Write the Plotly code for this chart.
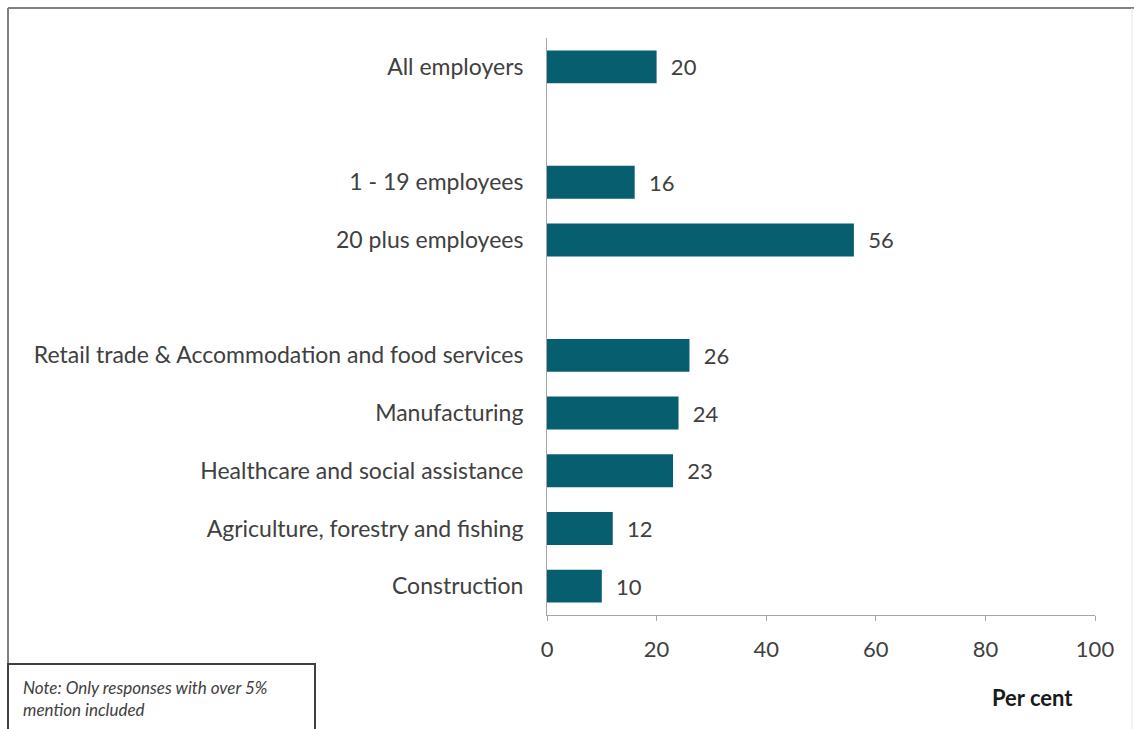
import plotly.graph_objects as go

categories = [
    "All employers",
    " ",
    "1 - 19 employees",
    "20 plus employees",
    "  ",
    "Retail trade & Accommodation and food services",
    "Manufacturing",
    "Healthcare and social assistance",
    "Agriculture, forestry and fishing",
    "Construction",
]
values = [20, None, 16, 56, None, 26, 24, 23, 12, 10]
x_ticks = [0, 20, 40, 60, 80, 100]

bar_color = "#075e6f"
text_color = "#404040"
font_family = "Lato, 'Open Sans', sans-serif"

labels = ["" if v is None else "  " + str(v) for v in values]

fig = go.Figure(
    go.Bar(
        y=categories,
        x=values,
        orientation="h",
        marker=dict(color=bar_color, line=dict(width=0)),
        width=0.57,
        text=labels,
        textposition="outside",
        cliponaxis=False,
        textfont=dict(size=22, color=text_color, family=font_family),
        hoverinfo="skip",
    )
)

px = lambda x: (x - 547) / 548
py = lambda y: (615 - y) / 577

fig.update_layout(
    width=1134,
    height=729,
    paper_bgcolor="white",
    plot_bgcolor="white",
    margin=dict(l=547, r=39, t=38, b=114),
    showlegend=False,
    font=dict(family=font_family, size=22, color=text_color),
    xaxis=dict(
        range=[0, 100],
        tickvals=x_ticks,
        ticktext=[str(t) for t in x_ticks],
        showgrid=False,
        zeroline=False,
        showline=True,
        linecolor="#a6a6a6",
        linewidth=1,
        ticks="outside",
        ticklen=5,
        tickcolor="#a6a6a6",
        ticklabelstandoff=10,
        tickfont=dict(size=22, color=text_color),
        fixedrange=True,
    ),
    yaxis=dict(
        categoryorder="array",
        categoryarray=categories,
        autorange="reversed",
        showgrid=False,
        zeroline=False,
        showline=True,
        linecolor="#a6a6a6",
        linewidth=1,
        ticks="",
        ticklabelstandoff=18,
        tickfont=dict(size=23, color=text_color),
        fixedrange=True,
    ),
    shapes=[
        # outer chart frame: top, left (dark), right (faint)
        dict(type="line", xref="paper", yref="paper",
             x0=px(8), x1=px(1134), y0=py(8), y1=py(8),
             line=dict(color="#808080", width=2), layer="below"),
        dict(type="line", xref="paper", yref="paper",
             x0=px(8), x1=px(8), y0=py(8), y1=py(740),
             line=dict(color="#808080", width=2), layer="below"),
        dict(type="line", xref="paper", yref="paper",
             x0=px(1132), x1=px(1132), y0=py(8), y1=py(740),
             line=dict(color="#e6e6e6", width=1), layer="below"),
        # note box
        dict(type="rect", xref="paper", yref="paper",
             x0=px(8), x1=px(315),
             y0=py(760), y1=py(664),
             line=dict(color="#404040", width=2), fillcolor="white"),
    ],
    annotations=[
        dict(text="Per cent", xref="paper", yref="paper",
             x=px(1032), y=py(697),
             xanchor="center", yanchor="middle", showarrow=False,
             font=dict(size=22, color="#1a1a1a", family=font_family, weight="bold")),
        dict(text="<i>Note: Only responses with over 5%<br>mention included</i>",
             xref="paper", yref="paper",
             x=px(21), y=py(675),
             xanchor="left", yanchor="top", align="left", showarrow=False,
             font=dict(size=17, color=text_color, family=font_family)),
    ],
)

fig.write_html("out.html", config={"displayModeBar": False},
               post_script="document.body.style.margin='0';")
